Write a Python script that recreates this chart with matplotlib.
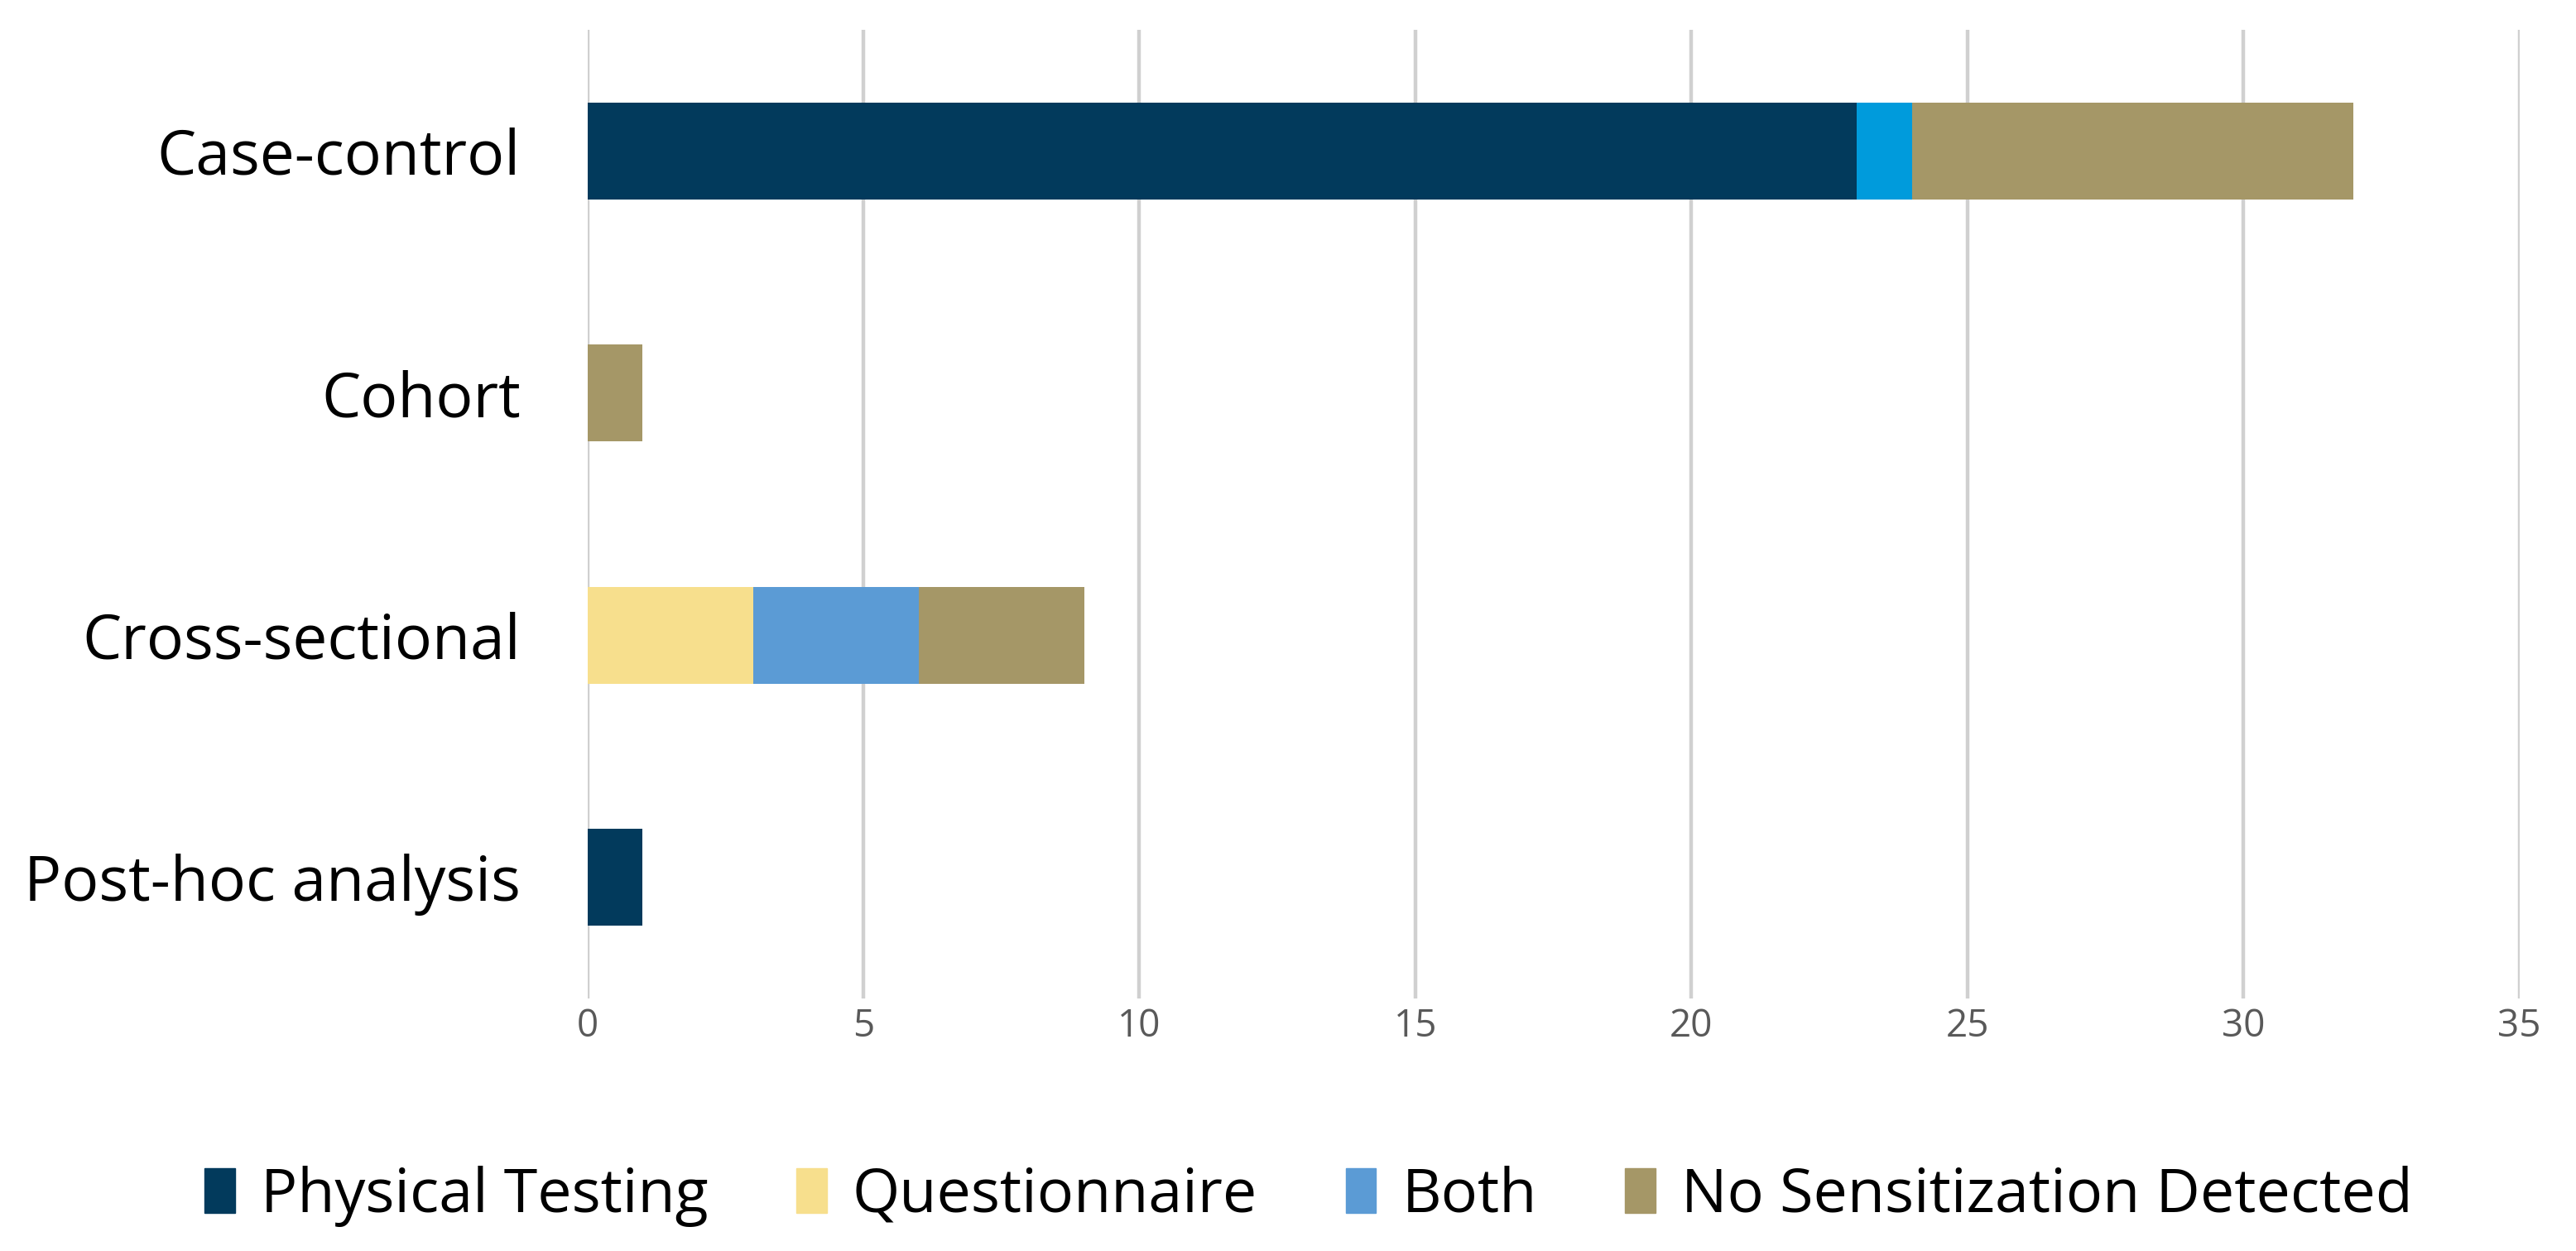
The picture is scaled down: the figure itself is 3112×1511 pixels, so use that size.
import matplotlib
matplotlib.use("Agg")
import matplotlib.pyplot as plt
import numpy as np
from matplotlib.patches import Patch

categories = ["Case-control", "Cohort", "Cross-sectional", "Post-hoc analysis"]
series_names = ["Physical Testing", "Questionnaire", "Both", "No Sensitization Detected"]
physical = [23, 0, 0, 1]
questionnaire = [0, 0, 3, 0]
both = [1, 0, 3, 0]
no_sens = [8, 1, 3, 0]
x_ticks = [0, 5, 10, 15, 20, 25, 30, 35]

colors = {
    "Physical Testing": "#023A5C",
    "Questionnaire": "#F7DF8D",
    "Both": "#5B9BD5",
    "No Sensitization Detected": "#A59767",
}
both_colors = ["#009BDC", "#5B9BD5", "#5B9BD5", "#5B9BD5"]

plt.rcParams['font.family'] = ['Open Sans', 'DejaVu Sans']

fig = plt.figure(figsize=(31.12, 15.11), dpi=100)
ax = fig.add_axes([0.2280, 0.2018, 0.9780 - 0.2280, 0.9762 - 0.2018])

y = np.arange(len(categories))
h = 0.4
left = np.zeros(len(categories))
series = [physical, questionnaire, both, no_sens]
for name, vals in zip(series_names, series):
    c = both_colors if name == "Both" else colors[name]
    ax.barh(y, vals, height=h, left=left, color=c, label=name, zorder=3)
    left += np.array(vals)

ax.set_ylim(len(categories) - 0.5, -0.5)
ax.set_xlim(0, 35)
ax.set_xticks(x_ticks)
ax.set_xticklabels([str(t) for t in x_ticks])
ax.set_yticks(y)
ax.set_yticklabels(categories)
ax.tick_params(axis='x', length=0, labelsize=33, labelcolor="#595959", pad=8)
ax.tick_params(axis='y', length=0, labelsize=54, labelcolor="#000000", pad=58)
ax.grid(axis='x', color="#D0D0D0", linewidth=3.2, zorder=0)
for s in ax.spines.values():
    s.set_visible(False)

handles = [Patch(color=colors[n]) for n in series_names]
fig.legend(handles, series_names, loc='center', bbox_to_anchor=(0.508, 0.044), ncol=4,
           frameon=False, fontsize=53, handlelength=0.5, handleheight=0.75,
           handletextpad=0.42, columnspacing=1.45)

fig.savefig("out.png", dpi=100, facecolor="white")
